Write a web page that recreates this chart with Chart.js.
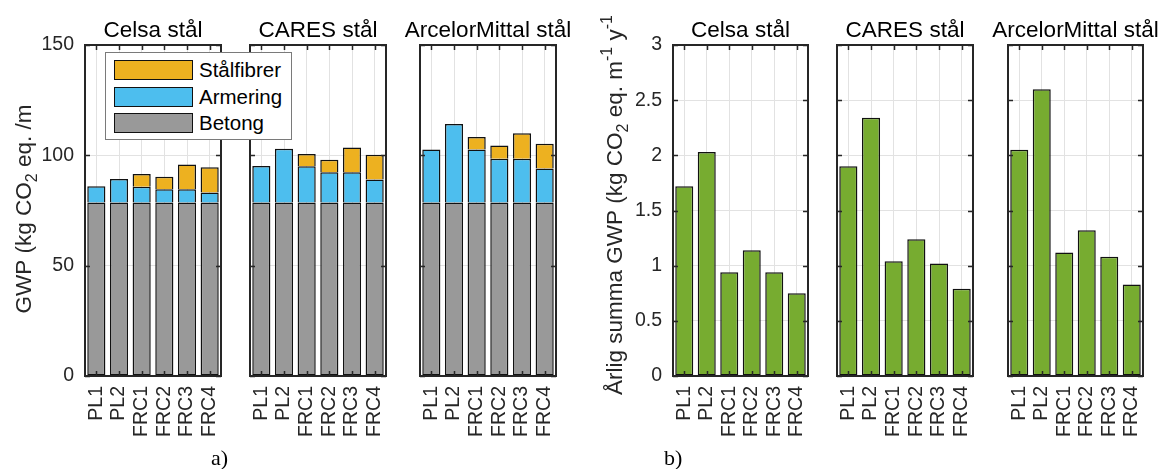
<!DOCTYPE html>
<html>
<head>
<meta charset="utf-8">
<script src="https://cdn.jsdelivr.net/npm/chart.js@4.4.1/dist/chart.umd.min.js"></script>
<style>
html,body{margin:0;padding:0;background:#fff;}
#wrap{position:relative;width:1163px;height:469px;overflow:hidden;background:#fff;}
#wrap canvas{position:absolute;top:0;}
.plabel{position:absolute;font-family:"Liberation Serif","Times New Roman",serif;font-size:22px;color:#000;line-height:1;}
#legend{position:absolute;left:105px;top:52px;width:187px;height:88px;background:#fff;border:1px solid #7a7a7a;box-sizing:border-box;font-family:"Liberation Sans",Arial,sans-serif;font-size:20.5px;color:#000;z-index:10;}
#legend .row{position:absolute;left:8px;height:20px;}
#legend .sw{position:absolute;left:0;top:0;width:79px;height:20px;border:1.5px solid #111;box-sizing:border-box;}
#legend .tx{position:absolute;left:85px;top:-2px;white-space:nowrap;line-height:24px;}
</style>
</head>
<body>
<div id="wrap"></div>
<script>
// ---------- data ----------
const categories = ['PL1', 'PL2', 'FRC1', 'FRC2', 'FRC3', 'FRC4'];
const panelTitles = ['Celsa stål', 'CARES stål', 'ArcelorMittal stål'];
const seriesNames = ['Betong', 'Armering', 'Stålfibrer'];
const seriesColors = ['#999999', '#4DBEEE', '#EDB120'];
const annualColor = '#77AC30';

// a) GWP per metre (kg CO2 eq./m), stacked
const celsaBetong    = [78.6, 78.6, 78.6, 78.6, 78.6, 78.6];
const celsaArmering  = [7.4, 10.7, 7.2, 6.0, 6.0, 4.6];
const celsaFibrer    = [0, 0, 5.7, 5.7, 11.3, 11.4];
const caresBetong    = [78.6, 78.6, 78.6, 78.6, 78.6, 78.6];
const caresArmering  = [16.6, 24.4, 16.4, 13.7, 13.7, 10.5];
const caresFibrer    = [0, 0, 5.6, 5.7, 11.3, 11.2];
const arcelorBetong   = [78.6, 78.6, 78.6, 78.6, 78.6, 78.6];
const arcelorArmering = [24.1, 35.6, 24.0, 19.9, 19.9, 15.4];
const arcelorFibrer   = [0, 0, 5.7, 6.0, 11.5, 11.3];

// b) annual GWP (kg CO2 eq. m-1 y-1)
const celsaAnnual   = [1.72, 2.03, 0.94, 1.14, 0.94, 0.75];
const caresAnnual   = [1.90, 2.34, 1.04, 1.24, 1.02, 0.79];
const arcelorAnnual = [2.05, 2.60, 1.12, 1.32, 1.08, 0.83];

const gwpTicks = [0, 50, 100, 150];
const annualTicks = [0, 0.5, 1, 1.5, 2, 2.5, 3];

const leftAxisLabel = [{t:'n', s:'GWP (kg CO'}, {t:'sub', s:'2'}, {t:'n', s:' eq. /m'}];
const rightAxisLabel = [{t:'n', s:'Årlig summa GWP (kg CO'}, {t:'sub', s:'2'}, {t:'n', s:' eq. m'}, {t:'sup', s:'-1'}, {t:'n', s:' y'}, {t:'sup', s:'-1'}];

// ---------- rendering ----------
const FONT = '"Liberation Sans", Arial, Helvetica, sans-serif';
const AXC = '#262626';
const wrap = document.getElementById('wrap');

const framePlugin = {
  id: 'frame',
  afterDatasetsDraw(chart) {
    const {ctx, chartArea: a, scales: {x, y}} = chart;
    ctx.save();
    ctx.strokeStyle = AXC;
    ctx.lineWidth = 1.5;
    ctx.beginPath();
    x.ticks.forEach((t, i) => {
      const px = Math.round(x.getPixelForTick(i)) + 0.5;
      ctx.moveTo(px, a.top); ctx.lineTo(px, a.top + 5);
      ctx.moveTo(px, a.bottom); ctx.lineTo(px, a.bottom - 5);
    });
    y.ticks.forEach((t, i) => {
      const py = Math.round(y.getPixelForTick(i)) + 0.5;
      ctx.moveTo(a.left, py); ctx.lineTo(a.left + 5, py);
      ctx.moveTo(a.right, py); ctx.lineTo(a.right - 5, py);
    });
    ctx.stroke();
    ctx.lineWidth = 2;
    ctx.strokeRect(a.left, a.top, a.right - a.left, a.bottom - a.top);
    ctx.restore();
  }
};

const titlePlugin = {
  id: 'panelTitle',
  afterDraw(chart, args, opts) {
    if (!opts || !opts.text) return;
    const {ctx, chartArea: a} = chart;
    ctx.save();
    ctx.font = '22.5px ' + FONT;
    ctx.fillStyle = '#000';
    ctx.textAlign = 'center';
    ctx.textBaseline = 'alphabetic';
    ctx.fillText(opts.text, (a.left + a.right) / 2, 36.5);
    ctx.restore();
  }
};

const axisLabelPlugin = {
  id: 'axisLabel',
  afterDraw(chart, args, opts) {
    if (!opts || !opts.segments) return;
    const {ctx} = chart;
    const size = opts.size, small = Math.round(size * 0.7);
    ctx.save();
    ctx.translate(opts.baselineX, opts.centerY);
    ctx.rotate(-Math.PI / 2);
    ctx.fillStyle = AXC;
    ctx.textAlign = 'left';
    ctx.textBaseline = 'alphabetic';
    let total = 0;
    const segs = opts.segments.map(s => {
      const f = (s.t === 'n' ? size : small) + 'px ' + FONT;
      ctx.font = f;
      const w = ctx.measureText(s.s).width;
      total += w;
      return {s: s.s, f, w, dy: s.t === 'sub' ? 6 : (s.t === 'sup' ? -10 : 0)};
    });
    let xx = -total / 2;
    segs.forEach(s => { ctx.font = s.f; ctx.fillText(s.s, xx, s.dy); xx += s.w; });
    ctx.restore();
  }
};

function makeChart(panelLeft, panelW, leftW, datasets, ticks, showY, title, axisLabel) {
  const canvas = document.createElement('canvas');
  const W = Math.round(leftW + panelW + 20);
  canvas.width = W; canvas.height = 469;
  canvas.style.left = (panelLeft - leftW) + 'px';
  canvas.style.width = W + 'px';
  canvas.style.height = '469px';
  wrap.appendChild(canvas);
  const step = ticks[1] - ticks[0];
  return new Chart(canvas, {
    type: 'bar',
    data: {labels: categories, datasets},
    options: {
      responsive: false,
      animation: false,
      devicePixelRatio: 1,
      layout: {padding: {top: 45, right: 20, bottom: 0, left: 0}},
      plugins: {
        legend: {display: false},
        tooltip: {enabled: false},
        title: {display: false},
        panelTitle: {text: title},
        axisLabel: axisLabel || {segments: null}
      },
      datasets: {bar: {barPercentage: 0.8, categoryPercentage: 1.0}},
      scales: {
        x: {
          stacked: true,
          offset: true,
          grid: {offset: false, color: '#e2e2e2', lineWidth: 1, drawTicks: false},
          border: {display: false},
          ticks: {minRotation: 90, maxRotation: 90, autoSkip: false, padding: 10, color: AXC, font: {family: FONT, size: 19.5}},
          afterFit(s) { s.height = 93; s.paddingLeft = 0; s.paddingRight = 0; }
        },
        y: {
          stacked: true,
          min: ticks[0],
          max: ticks[ticks.length - 1],
          grid: {color: '#e2e2e2', lineWidth: 1, drawTicks: false},
          border: {display: false},
          ticks: {stepSize: step, display: showY, padding: 11, color: AXC, font: {family: FONT, size: 19.5},
                  callback: v => String(Math.round(v * 100) / 100)},
          afterFit(s) { s.width = leftW; s.paddingTop = 0; s.paddingBottom = 0; }
        }
      }
    },
    plugins: [framePlugin, titlePlugin, axisLabelPlugin]
  });
}

function stackedSets(betong, armering, fibrer) {
  const vals = [betong, armering, fibrer];
  return vals.map((v, i) => ({
    label: seriesNames[i], data: v, backgroundColor: seriesColors[i],
    borderColor: '#111111', borderWidth: 1.5, borderSkipped: i === 0 ? false : 'start'
  }));
}
function annualSet(vals) {
  return [{label: 'GWP', data: vals, backgroundColor: annualColor, borderColor: '#111111', borderWidth: 1.5, borderSkipped: false}];
}

// a) panels
makeChart(85, 136, 85, stackedSets(celsaBetong, celsaArmering, celsaFibrer), gwpTicks, true, panelTitles[0], {segments: leftAxisLabel, baselineX: 31, centerY: 209, size: 22.5});
makeChart(250, 136, 40, stackedSets(caresBetong, caresArmering, caresFibrer), gwpTicks, false, panelTitles[1]);
makeChart(420, 136, 40, stackedSets(arcelorBetong, arcelorArmering, arcelorFibrer), gwpTicks, false, panelTitles[2]);
// b) panels
makeChart(673, 135, 85, annualSet(celsaAnnual), annualTicks, true, panelTitles[0], {segments: rightAxisLabel, baselineX: 622 - 588, centerY: 205, size: 22.5});
makeChart(837, 136, 40, annualSet(caresAnnual), annualTicks, false, panelTitles[1]);
makeChart(1008, 135, 40, annualSet(arcelorAnnual), annualTicks, false, panelTitles[2]);

// legend (reverse order like the reference)
const legend = document.createElement('div');
legend.id = 'legend';
const rowTops = [7, 34, 60];
[2, 1, 0].forEach((si, r) => {
  const row = document.createElement('div');
  row.className = 'row';
  row.style.top = rowTops[r] + 'px';
  const sw = document.createElement('div');
  sw.className = 'sw';
  sw.style.background = seriesColors[si];
  const tx = document.createElement('div');
  tx.className = 'tx';
  tx.textContent = seriesNames[si];
  row.appendChild(sw); row.appendChild(tx);
  legend.appendChild(row);
});
wrap.appendChild(legend);

// sub-figure labels
[['a)', 211, 447], ['b)', 664, 447]].forEach(([t, x, y]) => {
  const d = document.createElement('div');
  d.className = 'plabel';
  d.textContent = t;
  d.style.left = x + 'px';
  d.style.top = y + 'px';
  wrap.appendChild(d);
});
</script>
</body>
</html>
